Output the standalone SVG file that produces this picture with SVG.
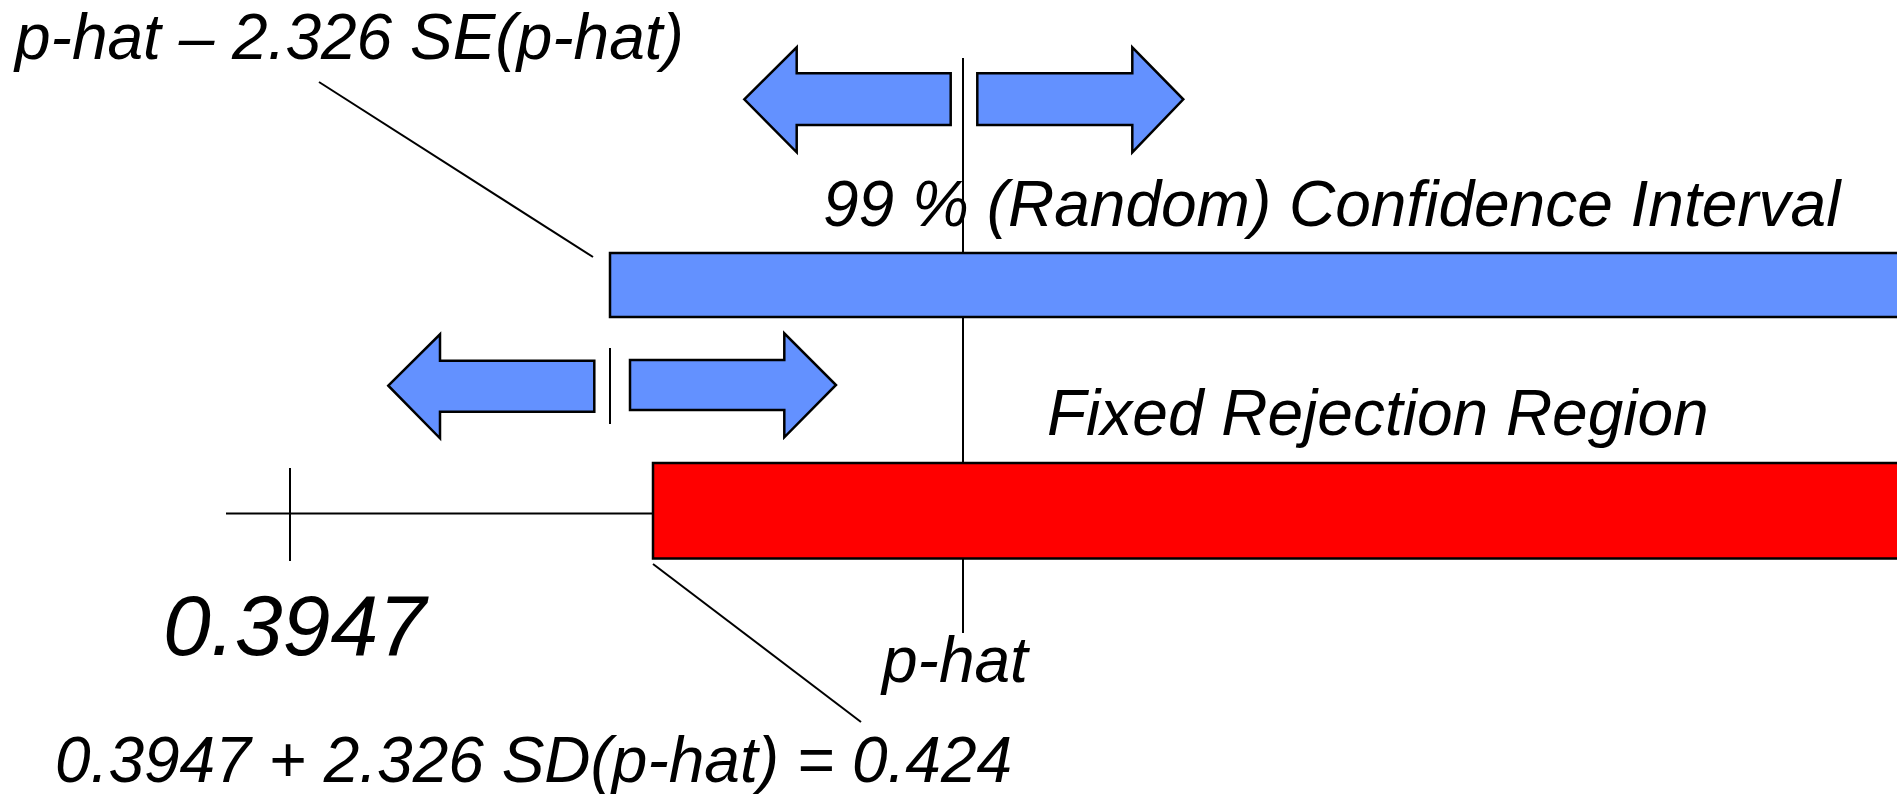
<svg xmlns="http://www.w3.org/2000/svg" width="1897" height="794" viewBox="0 0 1897 794">
  <style>
    .lbl { font-family: "Liberation Sans", Arial, sans-serif; font-style: italic; fill: #000; }
    .ln { stroke: #000; stroke-width: 2; fill: none; }
    .blue { fill: #6391FF; stroke: #000; stroke-width: 2.5; stroke-linejoin: miter; }
    .red { fill: #FF0000; stroke: #000; stroke-width: 2.5; }
  </style>
  <rect width="1897" height="794" fill="#fff"/>

  <!-- reference lines and leaders -->
  <g id="connectors">
    <line class="ln" x1="963" y1="58" x2="963" y2="633"/>
    <line class="ln" x1="319" y1="82" x2="593" y2="257"/>
    <line class="ln" x1="653" y1="564" x2="861" y2="722"/>
    <line class="ln" x1="610" y1="348" x2="610" y2="424"/>
    <line class="ln" x1="226" y1="513.5" x2="653" y2="513.5"/>
    <line class="ln" x1="290" y1="468" x2="290" y2="561"/>
  </g>

  <!-- confidence interval bar -->
  <g id="ci-bar">
    <rect class="blue" x="610" y="253" width="1300" height="64"/>
    <text class="lbl" x="823" y="226" font-size="64">99 % (Random) Confidence Interval</text>
  </g>

  <!-- rejection region bar -->
  <g id="rejection-bar">
    <rect class="red" x="653" y="463" width="1260" height="95.5"/>
    <text class="lbl" x="1047" y="435" font-size="64">Fixed Rejection Region</text>
  </g>

  <!-- arrows around p-hat -->
  <g id="phat-arrows">
    <polygon class="blue" points="744.3,99.3 796.7,47.3 796.7,73.3 950.7,73.3 950.7,125 796.7,125 796.7,152.3"/>
    <polygon class="blue" points="977.3,73.3 1132.3,73.3 1132.3,47.3 1183.3,99.3 1132.3,152.3 1132.3,125 977.3,125"/>
  </g>

  <!-- arrows around the lower interval limit -->
  <g id="limit-arrows">
    <polygon class="blue" points="388.3,385.7 440,334.3 440,360.7 594.3,360.7 594.3,411.7 440,411.7 440,438.3"/>
    <polygon class="blue" points="630,360 784.3,360 784.3,333.3 836,385 784.3,437.3 784.3,410 630,410"/>
  </g>

  <!-- labels -->
  <g id="label-lower-limit">
    <text class="lbl" x="15" y="59" font-size="64">p-hat – 2.326 SE(p-hat)</text>
  </g>
  <g id="label-phat">
    <text class="lbl" x="882" y="682" font-size="64">p-hat</text>
  </g>
  <g id="label-null">
    <text class="lbl" x="163" y="655" font-size="86">0.3947</text>
  </g>
  <g id="label-cutoff">
    <text class="lbl" x="55" y="782" font-size="64">0.3947 + 2.326 SD(p-hat) = 0.424</text>
  </g>
</svg>
